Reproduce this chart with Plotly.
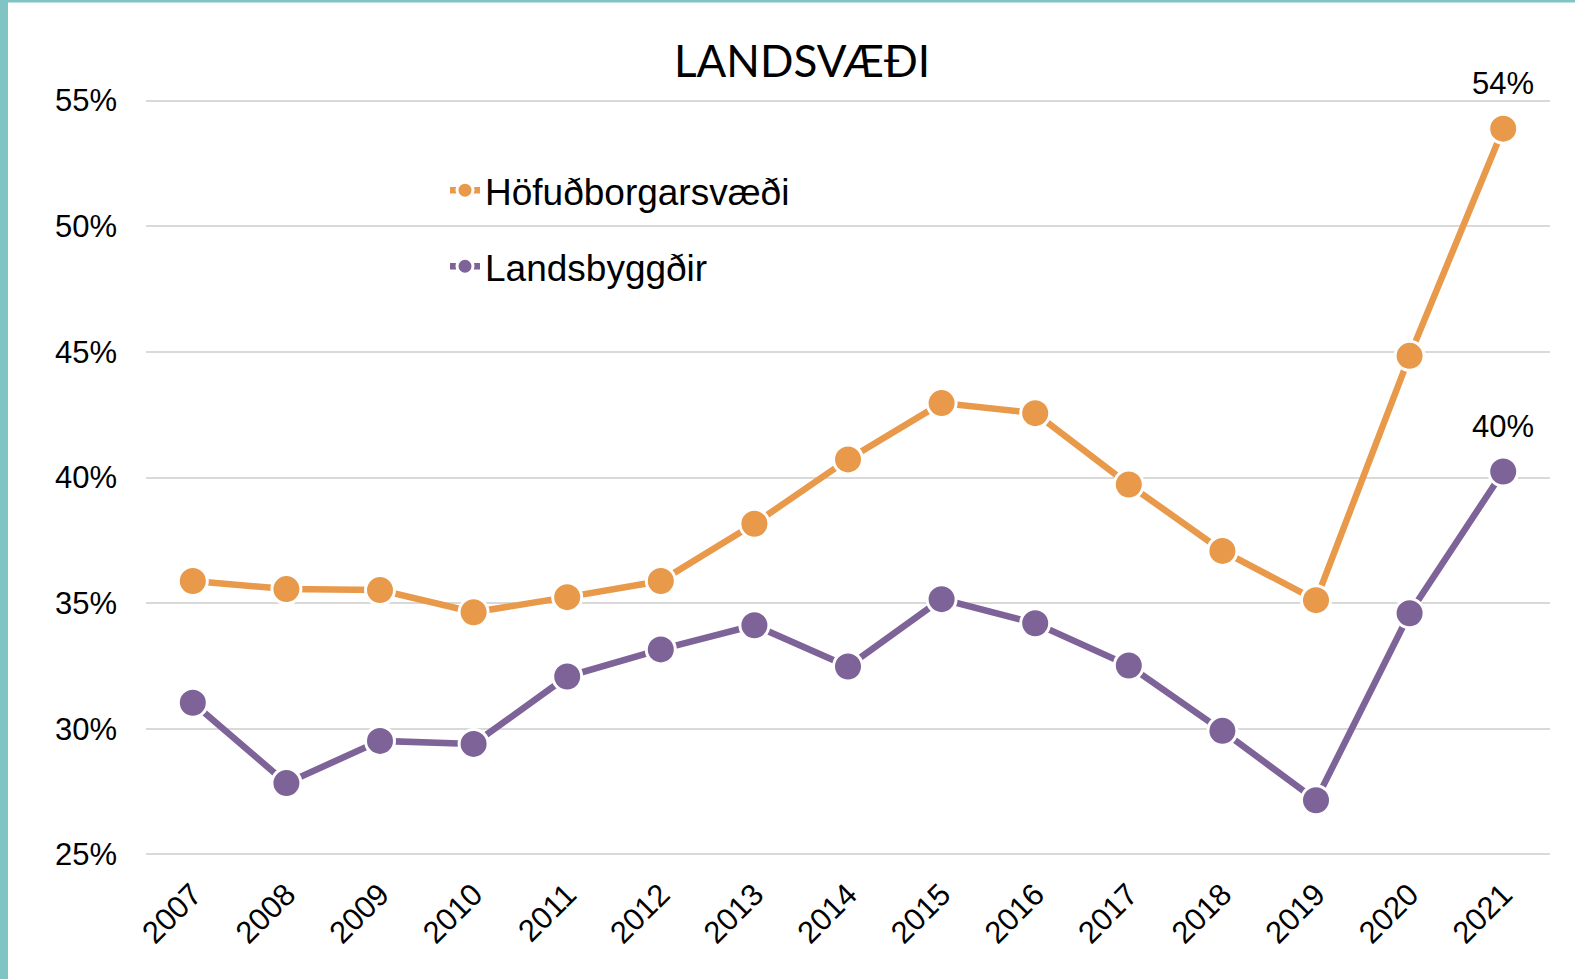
import plotly.graph_objects as go

years = ["2007", "2008", "2009", "2010", "2011", "2012", "2013", "2014",
         "2015", "2016", "2017", "2018", "2019", "2020", "2021"]
hofud = [35.88, 35.56, 35.52, 34.64, 35.24, 35.88, 38.16, 40.72,
         42.96, 42.56, 39.72, 37.08, 35.12, 44.84, 53.88]
lands = [31.04, 27.84, 29.52, 29.40, 32.08, 33.16, 34.12, 32.48,
         35.16, 34.20, 32.52, 29.92, 27.16, 34.60, 40.24]
series_names = ["Höfuðborgarsvæði", "Landsbyggðir"]
last_labels = ["54%", "40%"]
y_ticks = [25, 30, 35, 40, 45, 50, 55]
y_tick_text = ["25%", "30%", "35%", "40%", "45%", "50%", "55%"]

W, H = 1575, 979
L, R = 146, 1550
y_lo, y_hi = 24.9, 55.1
px_per = (854 - 101) / 30.0
top_px = 101 - (55.1 - 55) * px_per
bot_px = 854 + (25 - 24.9) * px_per

colors = ["#E8994A", "#7E6399"]

fig = go.Figure()
for i, (name, vals) in enumerate(zip(series_names, [hofud, lands])):
    fig.add_trace(go.Scatter(
        x=years, y=vals, name=name, mode="lines+markers",
        line=dict(color=colors[i], width=6.5),
        marker=dict(color=colors[i], size=29, line=dict(color="#FFFFFF", width=3)),
        legendgroup=name, cliponaxis=False,
    ))
    # category index of the last year (category axes take indices)
    fig.add_annotation(
        x=len(years) - 1, y=vals[-1], text=last_labels[i], showarrow=False,
        yshift=45, xanchor="center", yanchor="middle",
        font=dict(family="Liberation Sans, Arial", size=31, color="#000000"),
    )

fig.update_layout(
    width=W, height=H,
    margin=dict(l=L, r=W - R, t=top_px, b=H - bot_px, pad=0),
    paper_bgcolor="#FFFFFF", plot_bgcolor="#FFFFFF",
    title=dict(text="LANDSVÆÐI", x=802 / W, xanchor="center",
               y=1 - 62 / H, yanchor="middle",
               font=dict(family="Lato, Inter, sans-serif", size=44, color="#000000")),
    font=dict(family="Liberation Sans, Arial", color="#000000"),
    showlegend=True,
    legend=dict(x=(445 - L) / (R - L), xanchor="left",
                y=1 - (160 - top_px) / (bot_px - top_px), yanchor="top",
                font=dict(family="Liberation Sans, Arial", size=37, color="#000000"),
                bgcolor="rgba(0,0,0,0)", tracegroupgap=25, itemsizing="trace"),
    xaxis=dict(type="category", range=[-0.5, 14.5], showgrid=False,
               showline=False, zeroline=False, tickangle=-45,
               ticklabelstandoff=12,
               tickfont=dict(family="Liberation Sans, Arial", size=31),
               ticks=""),
    yaxis=dict(range=[y_lo, y_hi], tickvals=y_ticks, ticktext=y_tick_text,
               showgrid=True, gridcolor="#D9D9D9", gridwidth=2,
               showline=False, zeroline=False, ticks="",
               ticklabelstandoff=28,
               tickfont=dict(family="Liberation Sans, Arial", size=31)),
    shapes=[
        dict(type="rect", xref="paper", yref="paper",
             x0=(0 - L) / (R - L), x1=(8 - L) / (R - L),
             y0=(bot_px - H) / (bot_px - top_px), y1=(bot_px - 0) / (bot_px - top_px),
             fillcolor="#80C4C4", line=dict(width=0), layer="above"),
        dict(type="rect", xref="paper", yref="paper",
             x0=(0 - L) / (R - L), x1=(W - L) / (R - L),
             y0=(bot_px - 3) / (bot_px - top_px), y1=(bot_px - 0) / (bot_px - top_px),
             fillcolor="#80C4C4", line=dict(width=0), layer="above"),
    ],
)

fig.write_html("out.html", config={"displayModeBar": False},
               post_script="document.body.style.margin='0';")
